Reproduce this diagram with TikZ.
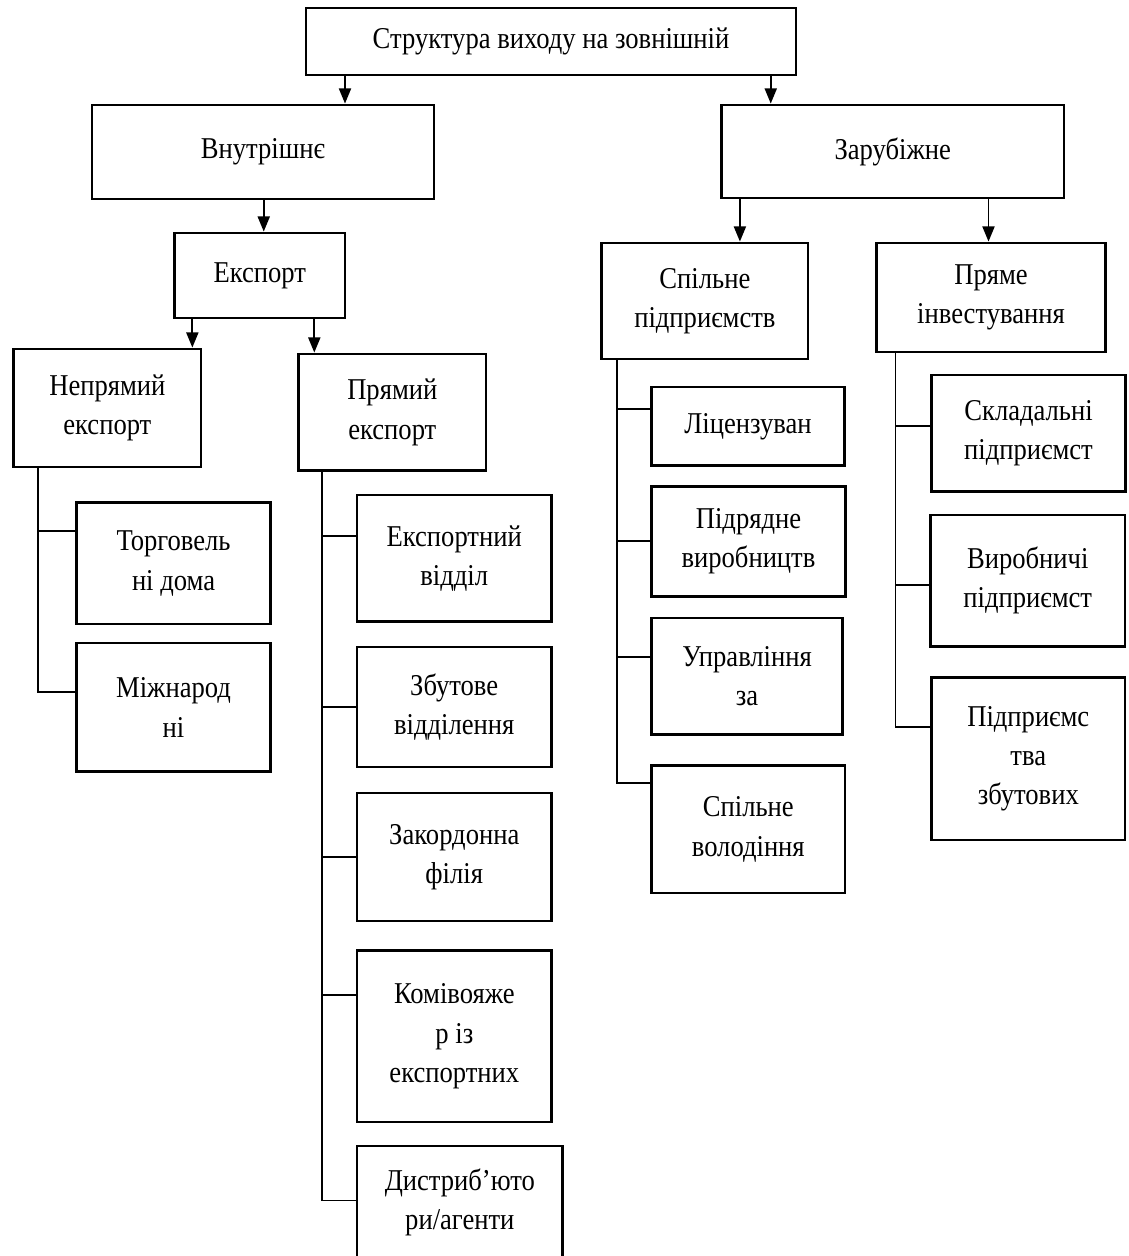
\documentclass[tikz,border=0pt]{standalone}
\usepackage{fontspec}
\setmainfont[FakeStretch=0.88]{Liberation Serif}
\usetikzlibrary{arrows.meta}
\newcommand{\pxu}{0.025cm}
\tikzset{
  unit/.style 2 args={draw, line width=2pt, minimum width=#1*\pxu, minimum height=#2*\pxu,
    inner sep=0pt, align=center, font=\fontsize{21.5}{28}\selectfont},
  link/.style={line width=1.4pt},
  arr/.style={line width=1.4pt, -{Triangle[width=0.3cm,length=0.38cm]}}
}
\begin{document}
\begin{tikzpicture}[x=0.025cm,y=-0.025cm]
\useasboundingbox (0,0) rectangle (1129,1256);
\node[unit={490}{67}] (root) at (551,41.5) {Структура виходу на зовнішній};
\node[unit={342}{94}] (vnut) at (263,152) {Внутрішнє};
\node[unit={342.5}{93}] (zarub) at (892.75,151.5) {Зарубіжне};
\node[unit={170.5}{85}] (eksp) at (259.75,275.5) {Експорт};
\node[unit={187.3}{118}] (nepr) at (107.35,408) {Непрямий\\експорт};
\node[unit={187.4}{116.7}] (pryam) at (392.3,412.35) {Прямий\\експорт};
\node[unit={193.9}{121.3}] (torh) at (173.55,563.35) {Торговель\\ні дома};
\node[unit={193.9}{128.7}] (mizh) at (173.55,707.35) {Міжнарод\\ні};
\node[unit={194.4}{126.7}] (ekvid) at (454.2,558.35) {Експортний\\відділ};
\node[unit={194.4}{120}] (zbut) at (454.2,707) {Збутове\\відділення};
\node[unit={194.5}{128}] (zakord) at (454.25,857) {Закордонна\\філія};
\node[unit={194.7}{171.3}] (komiv) at (454.35,1036.35) {Комівояже\\р із\\експортних};
\node[unit={205.7}{113}] (dystr) at (459.85,1202.5) {Дистриб’юто\\ри/агенти};
\node[unit={206.2}{116}] (spil) at (704.9,301) {Спільне\\підприємств};
\node[unit={229.2}{109}] (pryamin) at (991,297.5) {Пряме\\інвестування};
\node[unit={192.8}{78.7}] (lits) at (748,426.35) {Ліцензуван};
\node[unit={193.8}{110}] (pidr) at (748.5,541.4) {Підрядне\\виробництв};
\node[unit={191}{116.7}] (upr) at (747.1,676.25) {Управління\\за};
\node[unit={193.4}{127.3}] (spvol) at (748.3,829.35) {Спільне\\володіння};
\node[unit={193.8}{116.8}] (sklad) at (1028.5,433.4) {Складальні\\підприємст};
\node[unit={194.5}{131.4}] (vyrob) at (1027.75,580.7) {Виробничі\\підприємст};
\node[unit={193.4}{162.5}] (pidpr) at (1028.3,758.75) {Підприємс\\тва\\збутових};
\coordinate (a1) at ([xshift=82*\pxu]vnut.north);
\coordinate (a2) at ([xshift=-122*\pxu]zarub.north);
\coordinate (a3) at ([xshift=4*\pxu]eksp.north);
\coordinate (a4) at ([xshift=85*\pxu]nepr.north);
\coordinate (a5) at ([xshift=-78*\pxu]pryam.north);
\coordinate (a6) at ([xshift=35*\pxu]spil.north);
\coordinate (a7) at ([xshift=-2.5*\pxu]pryamin.north);
\draw[arr] (a1 |- root.south) -- (a1);
\draw[arr] (a2 |- root.south) -- (a2);
\draw[arr] (a3 |- vnut.south) -- (a3);
\draw[arr] (a4 |- eksp.south) -- (a4);
\draw[arr] (a5 |- eksp.south) -- (a5);
\draw[arr] (a6 |- zarub.south) -- (a6);
\draw[arr] (a7 |- zarub.south) -- (a7);
\coordinate (b1) at ([xshift=-69*\pxu]nepr.south);
\coordinate (b2) at ([xshift=-70*\pxu]pryam.south);
\coordinate (b3) at ([xshift=-88*\pxu]spil.south);
\coordinate (b4) at ([xshift=-95.5*\pxu]pryamin.south);
\draw[link] (b1) |- ([yshift=32*\pxu]torh.west);
\draw[link] (b1) |- ([yshift=15*\pxu]mizh.west);
\draw[link] (b2) |- ([yshift=22*\pxu]ekvid.west);
\draw[link] (b2) |- (zbut.west);
\draw[link] (b2) |- (zakord.west);
\draw[link] (b2) |- ([yshift=41*\pxu]komiv.west);
\draw[link] (b2) |- ([yshift=2*\pxu]dystr.west);
\draw[link] (b3) |- ([yshift=17*\pxu]lits.west);
\draw[link] (b3) |- (pidr.west);
\draw[link] (b3) |- ([yshift=19*\pxu]upr.west);
\draw[link] (b3) |- ([yshift=46*\pxu]spvol.west);
\draw[link] (b4) |- ([yshift=7*\pxu]sklad.west);
\draw[link] (b4) |- ([yshift=-4*\pxu]vyrob.west);
\draw[link] (b4) |- ([yshift=32*\pxu]pidpr.west);
\end{tikzpicture}
\end{document}
